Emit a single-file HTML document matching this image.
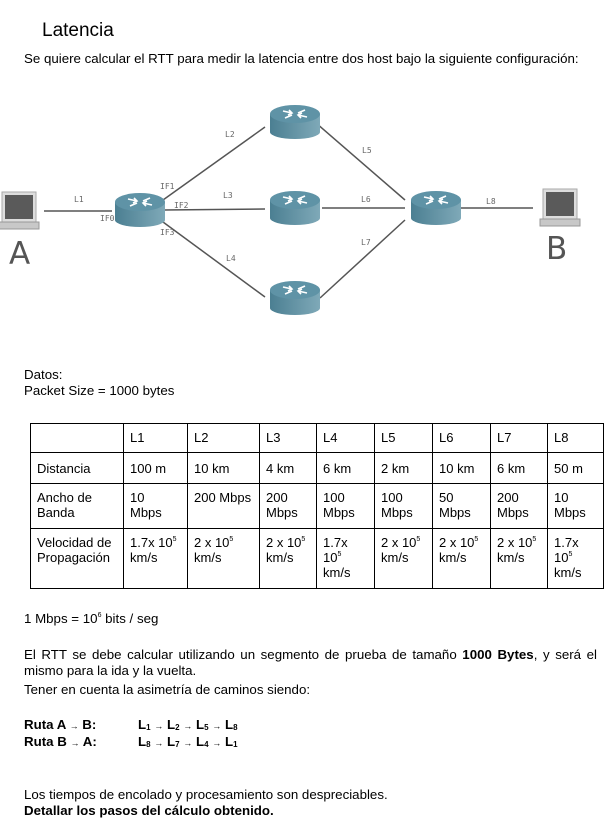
<!DOCTYPE html>
<html><head><meta charset="utf-8"><style>
body{margin:0;width:609px;height:823px;background:#fff;font-family:"Liberation Sans",sans-serif;color:#000;position:relative;overflow:hidden}
.t{position:absolute;font-size:13.3px;white-space:nowrap;line-height:16px}
table{position:absolute;left:30px;top:423px;border-collapse:collapse;font-size:13px;line-height:15px;table-layout:fixed;width:573px}
td{border:1px solid #000;vertical-align:top;padding:6px 0 0 6px;overflow:hidden;box-sizing:border-box}
sup{font-size:7px;vertical-align:6px;line-height:0}
sub{font-size:8px;vertical-align:-1px;line-height:0}
</style></head><body>
<div class="t" style="left:42px;top:20px;font-size:19px;line-height:22px">Latencia</div>
<div class="t" style="left:24px;top:51px">Se quiere calcular el RTT para medir la latencia entre dos host bajo la siguiente configuración:</div>

<svg style="position:absolute;left:0;top:90px" width="609" height="240" viewBox="0 90 609 240">
<defs>
<linearGradient id="g" x1="0" x2="1"><stop offset="0" stop-color="#4b7f92"/><stop offset="1" stop-color="#7fa9b8"/></linearGradient>
<g id="r">
<rect x="-25" y="-6" width="50" height="18" fill="url(#g)"/>
<ellipse cx="0" cy="12" rx="25" ry="7" fill="url(#g)"/>
<ellipse cx="0" cy="-6" rx="25" ry="9" fill="#5f93a6"/>
<g stroke="#fff" stroke-width="1.6" fill="none">
<path d="M-12,-9 L-3,-7 M-7,-5 L-3,-7 L-6,-10"/><path d="M12,-3 L3,-5 M7,-7 L3,-5 L6,-2"/>
<path d="M-10,-2 L-3,-5"/><path d="M10,-10 L3,-7"/></g>
</g>
<g id="lap">
<rect x="-17" y="-16" width="34" height="30" fill="#ddd" stroke="#aaa"/>
<rect x="-14" y="-13" width="28" height="24" fill="#5a5a5a"/>
<rect x="-20" y="14" width="40" height="7" fill="#c8c8c8" stroke="#999"/>
</g>
</defs>
<g stroke="#555" stroke-width="1.5">
<line x1="44" y1="211" x2="112" y2="211"/>
<line x1="163" y1="200" x2="265" y2="127"/>
<line x1="163" y1="210" x2="265" y2="209"/>
<line x1="163" y1="222" x2="265" y2="297"/>
<line x1="316" y1="123" x2="405" y2="200"/>
<line x1="322" y1="208" x2="405" y2="208"/>
<line x1="320" y1="298" x2="405" y2="220"/>
<line x1="460" y1="208" x2="533" y2="208"/>
</g>
<use href="#r" x="140" y="208"/>
<use href="#r" x="295" y="120"/>
<use href="#r" x="295" y="206"/>
<use href="#r" x="295" y="296"/>
<use href="#r" x="436" y="206"/>
<use href="#lap" x="19" y="208"/>
<use href="#lap" x="560" y="205"/>
<g font-family="DejaVu Sans Mono,monospace" font-size="8" fill="#666">
<text x="74" y="202">L1</text><text x="225" y="137">L2</text><text x="223" y="198">L3</text><text x="226" y="261">L4</text>
<text x="362" y="153">L5</text><text x="361" y="202">L6</text><text x="361" y="245">L7</text><text x="486" y="204">L8</text>
<text x="160" y="189">IF1</text><text x="174" y="208">IF2</text><text x="100" y="221">IF0</text><text x="160" y="235">IF3</text>
</g>
<text x="9" y="264" font-family="DejaVu Sans,sans-serif" font-size="31" fill="#555">A</text>
<text x="546" y="259" font-family="DejaVu Sans,sans-serif" font-size="31" fill="#555">B</text>
</svg>

<div class="t" style="left:24px;top:367px">Datos:</div>
<div class="t" style="left:24px;top:383px">Packet Size = 1000 bytes</div>

<table>
<colgroup><col style="width:93px"><col style="width:64px"><col style="width:72px"><col style="width:57px"><col style="width:58px"><col style="width:58px"><col style="width:58px"><col style="width:57px"><col style="width:56px"></colgroup>
<tr style="height:29px"><td></td><td>L1</td><td>L2</td><td>L3</td><td>L4</td><td>L5</td><td>L6</td><td>L7</td><td>L8</td></tr>
<tr style="height:31px"><td style="padding-top:8px">Distancia</td><td style="padding-top:8px">100 m</td><td style="padding-top:8px">10 km</td><td style="padding-top:8px">4 km</td><td style="padding-top:8px">6 km</td><td style="padding-top:8px">2 km</td><td style="padding-top:8px">10 km</td><td style="padding-top:8px">6 km</td><td style="padding-top:8px">50 m</td></tr>
<tr style="height:45px"><td>Ancho de<br>Banda</td><td>10<br>Mbps</td><td>200 Mbps</td><td>200<br>Mbps</td><td>100<br>Mbps</td><td>100<br>Mbps</td><td>50<br>Mbps</td><td>200<br>Mbps</td><td>10<br>Mbps</td></tr>
<tr style="height:60px"><td>Velocidad de<br>Propagación</td><td>1.7x 10<sup>5</sup><br>km/s</td><td>2 x 10<sup>5</sup><br>km/s</td><td>2 x 10<sup>5</sup><br>km/s</td><td>1.7x<br>10<sup>5</sup><br>km/s</td><td>2 x 10<sup>5</sup><br>km/s</td><td>2 x 10<sup>5</sup><br>km/s</td><td>2 x 10<sup>5</sup><br>km/s</td><td>1.7x<br>10<sup>5</sup><br>km/s</td></tr>
</table>

<div class="t" style="left:24px;top:611px">1 Mbps = 10<sup>6</sup> bits / seg</div>
<div class="t" style="left:24px;top:647px;width:573px;white-space:normal;text-align:justify">El RTT se debe calcular utilizando un segmento de prueba de tamaño <b>1000 Bytes</b>, y será el mismo para la ida y la vuelta.</div>
<div class="t" style="left:24px;top:682px">Tener en cuenta la asimetría de caminos siendo:</div>
<div class="t" style="left:24px;top:717px;font-weight:bold">Ruta A <span style="font-size:9px">→</span> B:</div>
<div class="t" style="left:138px;top:717px;font-weight:bold">L<sub>1</sub> <span style="font-size:9px">→</span> L<sub>2</sub> <span style="font-size:9px">→</span> L<sub>5</sub> <span style="font-size:9px">→</span> L<sub>8</sub></div>
<div class="t" style="left:24px;top:734px;font-weight:bold">Ruta B <span style="font-size:9px">→</span> A:</div>
<div class="t" style="left:138px;top:734px;font-weight:bold">L<sub>8</sub> <span style="font-size:9px">→</span> L<sub>7</sub> <span style="font-size:9px">→</span> L<sub>4</sub> <span style="font-size:9px">→</span> L<sub>1</sub></div>
<div class="t" style="left:24px;top:787px">Los tiempos de encolado y procesamiento son despreciables.</div>
<div class="t" style="left:24px;top:803px;font-weight:bold">Detallar los pasos del cálculo obtenido.</div>
</body></html>
